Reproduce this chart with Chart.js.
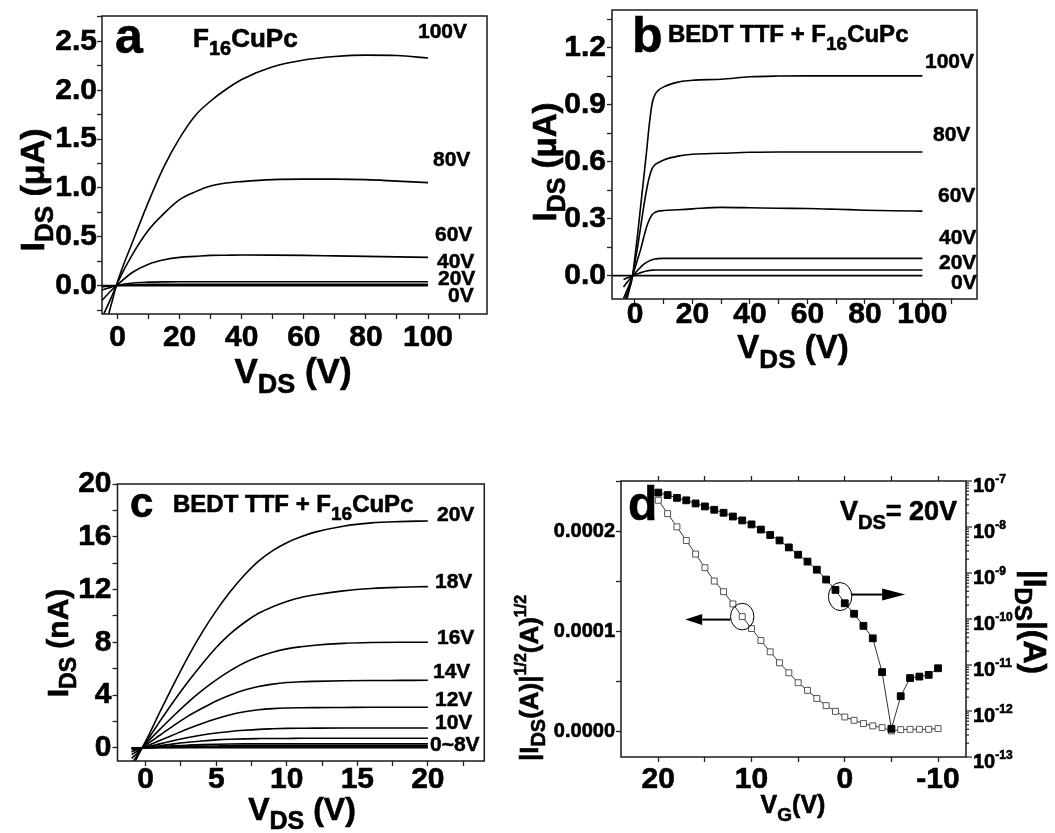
<!DOCTYPE html>
<html>
<head>
<meta charset="utf-8">
<script src="https://cdn.jsdelivr.net/npm/chart.js@4/dist/chart.umd.min.js"></script>
<style>
  html, body { margin: 0; padding: 0; background: #fff; }
  #fig { position: relative; width: 1055px; height: 833px; overflow: hidden; }
  #fig canvas { position: absolute; }
</style>
</head>
<body>
<div id="fig">
  <canvas id="pa" width="520" height="418" style="left:0;top:0"></canvas>
  <canvas id="pb" width="535" height="418" style="left:520px;top:0"></canvas>
  <canvas id="pc" width="500" height="415" style="left:0;top:418px"></canvas>
  <canvas id="pd" width="555" height="415" style="left:500px;top:418px"></canvas>
</div>
<script>
const FONT = "'Liberation Sans', Arial, Helvetica, sans-serif";

// ---------- (a) F16CuPc output curves: V_DS (V) vs I_DS (µA) ----------
const vdsA = [-5, -2, 0, 5, 10, 15, 20, 25, 30, 35, 40, 50, 60, 70, 80, 90, 100];
const idsA100 = [-0.55, -0.19, 0.04, 0.46, 0.86, 1.22, 1.51, 1.74, 1.89, 2.01, 2.11, 2.24, 2.31, 2.345, 2.36, 2.355, 2.33];
const idsA80  = [-0.33, -0.12, 0.03, 0.33, 0.57, 0.74, 0.88, 0.96, 1.02, 1.05, 1.065, 1.085, 1.09, 1.09, 1.085, 1.07, 1.055];
const idsA60  = [-0.15, -0.05, 0.01, 0.14, 0.22, 0.265, 0.29, 0.30, 0.31, 0.312, 0.314, 0.313, 0.31, 0.305, 0.30, 0.295, 0.29];
const idsA40  = [-0.045, -0.015, 0.004, 0.028, 0.036, 0.039, 0.04, 0.04, 0.04, 0.04, 0.04, 0.04, 0.04, 0.04, 0.04, 0.04, 0.04];
const idsA20  = [-0.012, -0.004, 0.001, 0.01, 0.014, 0.015, 0.015, 0.015, 0.015, 0.015, 0.015, 0.015, 0.015, 0.015, 0.015, 0.015, 0.015];
const idsA0   = [0, 0, 0, 0, 0, 0, 0, 0, 0, 0, 0, 0, 0, 0, 0, 0, 0];
const xLabelsA = ['0', '20', '40', '60', '80', '100'];
const yLabelsA = ['0.0', '0.5', '1.0', '1.5', '2.0', '2.5'];

// ---------- (b) BEDT-TTF + F16CuPc output curves (µA) ----------
const vdsB = [-4, -3, -2, -1, 0, 1, 2, 3, 4, 5, 6, 7, 8, 10, 15, 20, 30, 40, 50, 60, 70, 80, 90, 100];
const idsB100 = [-0.19, -0.135, -0.075, -0.015, 0.1, 0.23, 0.37, 0.51, 0.65, 0.8, 0.91, 0.955, 0.975, 0.995, 1.02, 1.03, 1.035, 1.048, 1.052, 1.053, 1.053, 1.053, 1.053, 1.053];
const idsB80  = [-0.15, -0.105, -0.06, -0.012, 0.07, 0.16, 0.26, 0.36, 0.45, 0.52, 0.565, 0.585, 0.595, 0.61, 0.63, 0.64, 0.645, 0.65, 0.652, 0.652, 0.652, 0.652, 0.652, 0.652];
const idsB60  = [-0.12, -0.085, -0.048, -0.008, 0.04, 0.09, 0.14, 0.2, 0.255, 0.295, 0.322, 0.334, 0.339, 0.343, 0.347, 0.352, 0.36, 0.358, 0.355, 0.354, 0.35, 0.345, 0.342, 0.34];
const idsB40  = [-0.06, -0.04, -0.022, -0.004, 0.012, 0.03, 0.045, 0.06, 0.07, 0.078, 0.084, 0.088, 0.09, 0.091, 0.091, 0.091, 0.091, 0.091, 0.091, 0.091, 0.091, 0.091, 0.091, 0.091];
const idsB20  = [-0.02, -0.014, -0.008, -0.002, 0.004, 0.01, 0.016, 0.021, 0.025, 0.027, 0.029, 0.03, 0.03, 0.03, 0.03, 0.03, 0.03, 0.03, 0.03, 0.03, 0.03, 0.03, 0.03, 0.03];
const vdsB0   = [-8, 100];
const idsB0   = [0, 0];
const xLabelsB = ['0', '20', '40', '60', '80', '100'];
const yLabelsB = ['0.0', '0.3', '0.6', '0.9', '1.2'];

// ---------- (c) BEDT-TTF + F16CuPc, low-voltage output curves (nA) ----------
const vdsC = [-1, -0.5, 0, 1, 2, 3, 4, 5, 6, 7, 8, 9, 10, 11, 12, 14, 16, 18, 20];
const idsC20 = [-1.6, -0.5, 0.5, 2.7, 4.85, 6.9, 8.75, 10.4, 11.85, 13.1, 14.15, 14.95, 15.55, 16.0, 16.35, 16.8, 17.05, 17.15, 17.2];
const idsC18 = [-1.2, -0.4, 0.4, 2.0, 3.55, 5.0, 6.35, 7.6, 8.65, 9.5, 10.2, 10.7, 11.1, 11.4, 11.6, 11.9, 12.08, 12.17, 12.22];
const idsC16 = [-0.8, -0.3, 0.3, 1.4, 2.45, 3.45, 4.35, 5.15, 5.85, 6.45, 6.9, 7.25, 7.5, 7.66, 7.78, 7.92, 7.98, 8.0, 8.0];
const idsC14 = [-0.5, -0.2, 0.2, 0.95, 1.7, 2.4, 3.0, 3.55, 4.0, 4.38, 4.65, 4.83, 4.95, 5.01, 5.04, 5.08, 5.1, 5.11, 5.12];
const idsC12 = [-0.3, -0.1, 0.1, 0.55, 1.0, 1.45, 1.85, 2.2, 2.5, 2.73, 2.88, 2.97, 3.02, 3.04, 3.05, 3.06, 3.07, 3.07, 3.07];
const idsC10 = [-0.15, -0.05, 0.05, 0.3, 0.55, 0.78, 0.97, 1.12, 1.24, 1.33, 1.4, 1.44, 1.47, 1.48, 1.49, 1.5, 1.5, 1.5, 1.5];
const idsC8  = [-0.05, -0.02, 0.02, 0.15, 0.3, 0.42, 0.52, 0.6, 0.65, 0.68, 0.7, 0.71, 0.71, 0.72, 0.72, 0.72, 0.72, 0.72, 0.72];
const idsC6  = [-0.02, -0.01, 0.0, 0.08, 0.15, 0.2, 0.24, 0.27, 0.29, 0.3, 0.3, 0.3, 0.3, 0.3, 0.3, 0.3, 0.3, 0.3, 0.3];
const idsC4  = [-0.01, 0, 0, 0.04, 0.08, 0.11, 0.13, 0.14, 0.15, 0.15, 0.15, 0.15, 0.15, 0.15, 0.15, 0.15, 0.15, 0.15, 0.15];
const idsC2  = [0, 0, 0, 0.02, 0.03, 0.04, 0.045, 0.05, 0.05, 0.05, 0.05, 0.05, 0.05, 0.05, 0.05, 0.05, 0.05, 0.05, 0.05];
const idsC0  = [0, 0, 0, 0, 0, 0, 0, 0, 0, 0, 0, 0, 0, 0, 0, 0, 0, 0, 0];
const xLabelsC = ['0', '5', '10', '15', '20'];
const yLabelsC = ['0', '4', '8', '12', '16', '20'];

// ---------- (d) transfer curve at V_DS = 20 V ----------
const vgD = [20, 19, 18, 17, 16, 15, 14, 13, 12, 11, 10, 9, 8, 7, 6, 5, 4, 3, 2, 1, 0, -1, -2, -3, -4, -5, -6, -7, -8, -9, -10];
// |I_DS|^(1/2) in A^(1/2)
const sqrtIdsD = [2.308e-4, 2.175e-4, 2.043e-4, 1.907e-4, 1.772e-4, 1.636e-4, 1.503e-4, 1.397e-4, 1.275e-4, 1.149e-4,
                  1.030e-4, 0.911e-4, 0.798e-4, 0.689e-4, 0.589e-4, 0.490e-4, 0.414e-4, 0.334e-4, 0.262e-4, 0.205e-4,
                  0.149e-4, 0.116e-4, 0.083e-4, 0.060e-4, 0.043e-4, 0.010e-4, 0.023e-4, 0.026e-4, 0.026e-4, 0.026e-4, 0.033e-4];
// |I_DS| in A
const absIdsD = [5.6e-8, 4.95e-8, 4.3e-8, 3.8e-8, 3.25e-8, 2.8e-8, 2.37e-8, 2.04e-8, 1.69e-8, 1.39e-8,
                 1.14e-8, 8.8e-9, 6.7e-9, 5.1e-9, 3.6e-9, 2.5e-9, 1.77e-9, 1.18e-9, 7.2e-10, 4.3e-10,
                 2.2e-10, 1.3e-10, 7.1e-11, 3.8e-11, 7.0e-12, 4.1e-13, 2.1e-12, 5.2e-12, 5.6e-12, 6.1e-12, 8.5e-12];
const xLabelsD = ['20', '10', '0', '-10'];
const yLabelsD = ['0.0000', '0.0001', '0.0002'];

// ---------- helpers ----------
function pts(xs, ys) { return xs.map((x, i) => ({ x, y: ys[i] })); }
function curve(xs, ys) {
  return { data: pts(xs, ys), borderColor: '#000', borderWidth: 1.6, pointRadius: 0,
           fill: false, cubicInterpolationMode: 'monotone' };
}
function near(list, v, tol) { return list.find(s => Math.abs(parseFloat(s) - v) < tol); }

function linAxis(o) {
  const hasLabels = !!o.labels;
  return {
    type: 'linear', position: o.pos, min: o.min, max: o.max, reverse: !!o.reverse,
    afterFit: s => { if (o.w !== undefined) s.width = o.w; if (o.h !== undefined) s.height = o.h; },
    grid: { drawOnChartArea: false, drawTicks: true, tickLength: 5, tickWidth: 1.3, tickColor: '#222' },
    border: { display: false },
    ticks: {
      display: hasLabels, stepSize: o.step, autoSkip: false, includeBounds: false,
      maxRotation: 0, minRotation: 0, color: '#000', padding: o.pad || 0,
      textStrokeColor: '#000', textStrokeWidth: 0.6,
      callback: v => { if (!hasLabels) return ''; const s = near(o.labels, v, o.tol); return s === undefined ? '' : s; },
      font: c => ({ family: FONT, weight: 'bold',
                    size: (!hasLabels || (c.tick && near(o.labels, c.tick.value, o.tol) === undefined)) ? 1 : o.size })
    }
  };
}

function part(text, size, dy) { return { text, size, dy: dy || 0 }; }
function rich(ctx, parts, x, y, align, rot) {
  ctx.save();
  ctx.translate(x, y);
  if (rot) ctx.rotate(rot);
  ctx.fillStyle = '#000';
  ctx.strokeStyle = '#000';
  ctx.lineWidth = 0.6;
  ctx.textBaseline = 'alphabetic';
  ctx.textAlign = 'left';
  let w = 0;
  const widths = parts.map(p => { ctx.font = 'bold ' + p.size + 'px ' + FONT; const m = ctx.measureText(p.text).width; w += m; return m; });
  let cx = align === 'center' ? -w / 2 : 0;
  parts.forEach((p, i) => {
    ctx.font = 'bold ' + p.size + 'px ' + FONT;
    ctx.fillText(p.text, cx, p.dy);
    ctx.strokeText(p.text, cx, p.dy);
    cx += widths[i];
  });
  ctx.restore();
}
function label(ctx, text, x, y, size) {
  ctx.save();
  ctx.font = 'bold ' + size + 'px ' + FONT;
  ctx.fillStyle = '#000';
  ctx.strokeStyle = '#000';
  ctx.lineWidth = 0.5;
  ctx.textBaseline = 'middle';
  ctx.textAlign = 'left';
  ctx.fillText(text, x, y);
  ctx.strokeText(text, x, y);
  ctx.restore();
}
function extras(draw) {
  return {
    id: 'extras',
    afterDatasetsDraw(chart) {
      const a = chart.chartArea, ctx = chart.ctx;
      ctx.save();
      ctx.strokeStyle = '#1a1a1a';
      ctx.lineWidth = 1.5;
      ctx.strokeRect(a.left, a.top, a.right - a.left, a.bottom - a.top);
      ctx.restore();
    },
    afterDraw(chart) { draw(chart.ctx, chart); }
  };
}
function baseOptions(scales, padding) {
  return {
    responsive: false, animation: false, devicePixelRatio: 1,
    layout: { padding },
    plugins: { legend: { display: false }, tooltip: { enabled: false } },
    scales
  };
}

// ---------- panel a ----------
new Chart(document.getElementById('pa'), {
  type: 'line',
  data: { datasets: [curve(vdsA, idsA100), curve(vdsA, idsA80), curve(vdsA, idsA60),
                     curve(vdsA, idsA40), curve(vdsA, idsA20), curve(vdsA, idsA0)] },
  options: baseOptions({
    x: linAxis({ pos: 'bottom', min: -5, max: 119, step: 10, labels: xLabelsA, tol: 1e-6, size: 30, pad: 0.5, h: 104 }),
    y: linAxis({ pos: 'left', min: -0.29, max: 2.76, step: 0.25, labels: yLabelsA, tol: 1e-6, size: 30, pad: 0, w: 102 })
  }, { left: 0, top: 16, right: 33, bottom: 0 }),
  plugins: [extras(ctx => {
    rich(ctx, [part('a', 50)], 115, 53);
    rich(ctx, [part('F', 26), part('16', 20, 8), part('CuPc', 26)], 193, 47);
    label(ctx, '100V', 418, 32, 21);
    label(ctx, '80V', 433, 160, 21);
    label(ctx, '60V', 435, 235, 21);
    label(ctx, '40V', 437, 262, 21);
    label(ctx, '20V', 438, 279, 21);
    label(ctx, '0V', 448, 296, 21);
    rich(ctx, [part('V', 35), part('DS', 27, 10), part(' (V)', 35)], 293, 383, 'center');
    rich(ctx, [part('I', 34), part('DS', 26, 9), part(' (\u03bcA)', 34)], 44, 190, 'center', -Math.PI / 2);
  })]
});

// ---------- panel b ----------
new Chart(document.getElementById('pb'), {
  type: 'line',
  data: { datasets: [curve(vdsB, idsB100), curve(vdsB, idsB80), curve(vdsB, idsB60),
                     curve(vdsB, idsB40), curve(vdsB, idsB20), curve(vdsB0, idsB0)] },
  options: baseOptions({
    x: linAxis({ pos: 'bottom', min: -8, max: 119, step: 10, labels: xLabelsB, tol: 1e-6, size: 30, pad: -7.5, h: 119 }),
    y: linAxis({ pos: 'left', min: -0.123, max: 1.40, step: 0.15, labels: yLabelsB, tol: 1e-6, size: 30, pad: 1, w: 92 })
  }, { left: 0, top: 10, right: 78, bottom: 0 }),
  plugins: [extras(ctx => {
    rich(ctx, [part('b', 50)], 112, 52);
    rich(ctx, [part('BEDT TTF + F', 24), part('16', 19, 8), part('CuPc', 24)], 148, 42);
    label(ctx, '100V', 405, 62, 21);
    label(ctx, '80V', 413, 135, 21);
    label(ctx, '60V', 418, 196, 21);
    label(ctx, '40V', 419, 238, 21);
    label(ctx, '20V', 419, 263, 21);
    label(ctx, '0V', 431, 283, 21);
    rich(ctx, [part('V', 33), part('DS', 26, 10), part(' (V)', 33)], 273, 358, 'center');
    rich(ctx, [part('I', 33), part('DS', 25, 9), part(' (\u03bcA)', 33)], 36, 162, 'center', -Math.PI / 2);
  })]
});

// ---------- panel c ----------
new Chart(document.getElementById('pc'), {
  type: 'line',
  data: { datasets: [curve(vdsC, idsC20), curve(vdsC, idsC18), curve(vdsC, idsC16), curve(vdsC, idsC14),
                     curve(vdsC, idsC12), curve(vdsC, idsC10), curve(vdsC, idsC8), curve(vdsC, idsC6),
                     curve(vdsC, idsC4), curve(vdsC, idsC2), curve(vdsC, idsC0)] },
  options: baseOptions({
    x: linAxis({ pos: 'bottom', min: -2, max: 24, step: 2.5, labels: xLabelsC, tol: 1e-6, size: 30, pad: -4, h: 72 }),
    y: linAxis({ pos: 'left', min: -1, max: 20, step: 2, labels: yLabelsC, tol: 1e-6, size: 30, pad: 1, w: 117.5 })
  }, { left: 0, top: 66, right: 15.7, bottom: 0 }),
  plugins: [extras(ctx => {
    rich(ctx, [part('c', 42)], 130, 99);
    rich(ctx, [part('BEDT TTF + F', 24), part('16', 19, 8), part('CuPc', 24)], 173, 94);
    label(ctx, '20V', 437, 97, 21);
    label(ctx, '18V', 435, 164, 21);
    label(ctx, '16V', 437, 220, 21);
    label(ctx, '14V', 433, 254, 21);
    label(ctx, '12V', 435, 282, 21);
    label(ctx, '10V', 435, 305, 21);
    label(ctx, '0~8V', 430, 327, 21);
    rich(ctx, [part('V', 32), part('DS', 25, 9), part(' (V)', 32)], 302, 402, 'center');
    rich(ctx, [part('I', 30), part('DS', 23, 8), part(' (nA)', 30)], 68, 225, 'center', -Math.PI / 2);
  })]
});

// ---------- panel d ----------
function logAxisRight(w) {
  return {
    type: 'logarithmic', position: 'right', min: 1e-13, max: 1e-7,
    afterFit: s => { s.width = w; },
    grid: { drawOnChartArea: false, drawTicks: false },
    border: { display: false },
    ticks: { display: false, autoSkip: false }
  };
}
new Chart(document.getElementById('pd'), {
  type: 'line',
  data: { datasets: [
    { data: pts(vgD, absIdsD), yAxisID: 'y2', borderColor: '#000', borderWidth: 0.8,
      pointStyle: 'rect', pointRadius: 4.8, pointBackgroundColor: '#000', pointBorderColor: '#000', pointBorderWidth: 1 },
    { data: pts(vgD, sqrtIdsD), yAxisID: 'y', borderColor: '#000', borderWidth: 0.8,
      pointStyle: 'rect', pointRadius: 4.2, pointBackgroundColor: '#fff', pointBorderColor: '#555', pointBorderWidth: 1 }
  ] },
  options: baseOptions({
    x: linAxis({ pos: 'bottom', min: -13, max: 24, reverse: true, step: 5, labels: xLabelsD, tol: 1e-6, size: 30, pad: 0, h: 76 }),
    x2: linAxis({ pos: 'top', min: -13, max: 24, reverse: true, step: 5, labels: null, h: 6 }),
    y: linAxis({ pos: 'left', min: -0.000025, max: 0.00025, step: 0.00005, labels: yLabelsD, tol: 1e-9, size: 20, pad: 1, w: 121 }),
    y2: logAxisRight(89)
  }, { left: 0, top: 57, right: 0, bottom: 0 }),
  plugins: [extras((ctx, chart) => {
    const a = chart.chartArea;
    const xs = chart.scales.x, yl = chart.scales.y, yr = chart.scales.y2;

    // log-axis tick marks and 10^n labels
    ctx.save();
    ctx.strokeStyle = '#222';
    ctx.lineWidth = 1.2;
    yr.ticks.forEach(t => {
      const e = Math.floor(Math.log10(t.value) + 1e-9);
      const m = t.value / Math.pow(10, e);
      if (Math.abs(m - Math.round(m)) > 1e-6) return;
      const y = yr.getPixelForValue(t.value);
      const len = Math.round(m) === 1 ? 6 : 3;
      ctx.beginPath(); ctx.moveTo(a.right, y); ctx.lineTo(a.right + len, y); ctx.stroke();
      if (Math.round(m) === 1) {
        rich(ctx, [part('10', 20), part(String(e), 12, -9)], a.right + 7, y + 11);
      }
    });
    ctx.restore();

    rich(ctx, [part('d', 48)], 128, 102);
    rich(ctx, [part('V', 27), part('DS', 20, 9), part('= 20V', 27)], 340, 102);

    // circle the marked points and point to their axes
    ctx.save();
    ctx.strokeStyle = '#000';
    ctx.fillStyle = '#000';
    const iL = vgD.indexOf(11);
    const lx = xs.getPixelForValue(vgD[iL]), ly = yl.getPixelForValue(sqrtIdsD[iL]);
    ctx.lineWidth = 1;
    ctx.beginPath(); ctx.ellipse(lx, ly, 11.7, 13.3, 0, 0, 2 * Math.PI); ctx.stroke();
    ctx.lineWidth = 2;
    ctx.beginPath(); ctx.moveTo(lx - 11.7, ly + 3); ctx.lineTo(lx - 40, ly + 3); ctx.stroke();
    ctx.beginPath(); ctx.moveTo(lx - 57, ly + 3); ctx.lineTo(lx - 40, ly - 2.5); ctx.lineTo(lx - 40, ly + 8.5); ctx.closePath(); ctx.fill();

    const i0 = vgD.indexOf(0), i1 = vgD.indexOf(1);
    const rx = (xs.getPixelForValue(vgD[i0]) + xs.getPixelForValue(vgD[i1])) / 2;
    const ry = (yr.getPixelForValue(absIdsD[i0]) + yr.getPixelForValue(absIdsD[i1])) / 2;
    ctx.lineWidth = 1;
    ctx.beginPath(); ctx.ellipse(rx, ry, 11.7, 14, 0, 0, 2 * Math.PI); ctx.stroke();
    ctx.lineWidth = 2;
    ctx.beginPath(); ctx.moveTo(rx + 11.7, ry - 2); ctx.lineTo(rx + 42, ry - 2); ctx.stroke();
    ctx.beginPath(); ctx.moveTo(rx + 65, ry - 2); ctx.lineTo(rx + 42, ry - 8); ctx.lineTo(rx + 42, ry + 4); ctx.closePath(); ctx.fill();
    ctx.restore();

    rich(ctx, [part('V', 25), part('G', 19, 8), part('(V)', 25)], 293, 395, 'center');
    rich(ctx, [part('|I', 26), part('DS', 20, 7), part('(A)|', 26), part('1/2', 16, -12), part('(A)', 26), part('1/2', 16, -12)],
         38, 260, 'center', -Math.PI / 2);
    rich(ctx, [part('|I', 32), part('DS', 24, 9), part('|(A)', 32)], 524, 204, 'center', Math.PI / 2);
  })]
});
</script>
</body>
</html>
